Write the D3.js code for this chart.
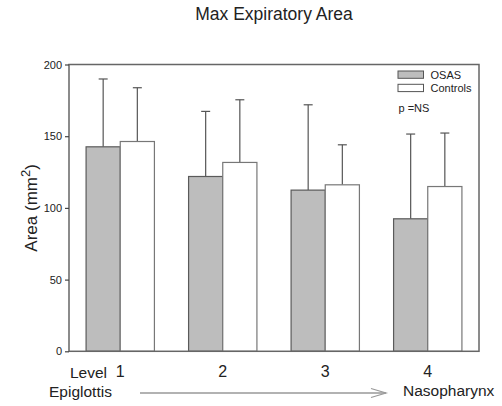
<!DOCTYPE html>
<html lang="en">
<head>
  <meta charset="utf-8">
  <title>Max Expiratory Area</title>
  <script src="https://d3js.org/d3.v7.min.js"></script>
  <style>
    body { margin: 0; background: #fff; }
    text { font-family: "Liberation Sans", Arial, sans-serif; fill: #222; }
  </style>
</head>
<body>
<script>
  // data
  var levels = ["1", "2", "3", "4"];
  var groups = ["OSAS", "Controls"];
  var osasMean = [142.6, 121.9, 112.4, 92.4];
  var osasErr = [189.9, 167.3, 171.9, 151.5];
  var ctrlMean = [146.3, 131.7, 116.1, 114.9];
  var ctrlErr = [183.8, 175.4, 144.0, 152.2];
  var yTicks = [0, 50, 100, 150, 200];
  var fills = ["#bdbdbd", "#ffffff"];

  var w = 502, h = 406;
  var plotL = 69, plotR = 479, plotT = 64.5, plotB = 351.3;

  var svg = d3.select("body").append("svg")
    .attr("width", w)
    .attr("height", h);

  var x = d3.scaleBand().domain(levels).range([plotL, plotR]).padding(0);
  var y = d3.scaleLinear().domain([0, 200]).range([plotB, plotT]);
  var barW = x.bandwidth() / 3;

  var rows = [];
  levels.forEach(function(l, i) {
    rows.push({level: l, g: 0, mean: osasMean[i], err: osasErr[i]});
    rows.push({level: l, g: 1, mean: ctrlMean[i], err: ctrlErr[i]});
  });
  function bx(d) {
    return x(d.level) + x.bandwidth() / 2 - barW + d.g * barW;
  }

  // error bars (upper only) drawn first so the bar covers the stem
  var eb = svg.append("g").attr("stroke", "#555").attr("stroke-width", 1.2);
  eb.selectAll("line.stem").data(rows).enter().append("line")
    .attr("class", "stem")
    .attr("x1", function(d) { return bx(d) + barW / 2; })
    .attr("x2", function(d) { return bx(d) + barW / 2; })
    .attr("y1", function(d) { return y(d.mean); })
    .attr("y2", function(d) { return y(d.err); });
  eb.selectAll("line.cap").data(rows).enter().append("line")
    .attr("class", "cap")
    .attr("x1", function(d) { return bx(d) + barW / 2 - 4.5; })
    .attr("x2", function(d) { return bx(d) + barW / 2 + 4.5; })
    .attr("y1", function(d) { return y(d.err); })
    .attr("y2", function(d) { return y(d.err); });

  svg.append("g").selectAll("rect").data(rows).enter().append("rect")
    .attr("x", bx)
    .attr("y", function(d) { return y(d.mean); })
    .attr("width", barW)
    .attr("height", function(d) { return y(0) - y(d.mean); })
    .attr("fill", function(d) { return fills[d.g]; })
    .attr("stroke", function(d) { return d.g == 0 ? "#5a5a5a" : "#777"; })
    .attr("stroke-width", 1.2);

  // frame
  svg.append("rect")
    .attr("x", plotL).attr("y", plotT)
    .attr("width", plotR - plotL).attr("height", plotB - plotT)
    .attr("fill", "none").attr("stroke", "#666").attr("stroke-width", 1.5);

  var yAxis = svg.append("g")
    .attr("transform", "translate(" + plotL + ",0)")
    .call(d3.axisLeft(y).tickValues(yTicks).tickSize(4).tickPadding(3));
  yAxis.select(".domain").remove();
  yAxis.selectAll("line").attr("stroke", "#444").attr("stroke-width", 1.2);
  yAxis.selectAll("text").attr("font-size", 11).attr("fill", "#333")
    .style("font-family", "'Liberation Sans', Arial, sans-serif");

  // level labels
  svg.append("g").selectAll("text").data(levels).enter().append("text")
    .attr("x", function(d) { return x(d) + x.bandwidth() / 2; })
    .attr("y", 377)
    .attr("text-anchor", "middle")
    .attr("font-size", 16)
    .text(function(d) { return d; });

  svg.append("text").attr("x", 70).attr("y", 378)
    .attr("font-size", 15.5).text("Level");
  svg.append("text").attr("x", 49).attr("y", 397)
    .attr("font-size", 15.5).text("Epiglottis");
  svg.append("text").attr("x", 403).attr("y", 396)
    .attr("font-size", 15.5).text("Nasopharynx");

  // arrow
  svg.append("line")
    .attr("x1", 140).attr("x2", 386).attr("y1", 393).attr("y2", 393)
    .attr("stroke", "#999").attr("stroke-width", 1.5);
  svg.append("path")
    .attr("d", "M371,388.5L386,393L371,397.5")
    .attr("fill", "none").attr("stroke", "#999").attr("stroke-width", 1.2);

  // title
  svg.append("text").attr("x", 274).attr("y", 20)
    .attr("text-anchor", "middle").attr("font-size", 17.5)
    .text("Max Expiratory Area");

  // y label
  var yl = svg.append("text")
    .attr("transform", "translate(37," + ((plotT + plotB) / 2) + ") rotate(-90)")
    .attr("text-anchor", "middle")
    .attr("font-size", 17);
  yl.append("tspan").text("Area (mm");
  yl.append("tspan").attr("baseline-shift", "super").attr("font-size", 13).text("2");
  yl.append("tspan").text(")");

  // legend
  var lg = svg.append("g");
  lg.selectAll("rect").data(groups).enter().append("rect")
    .attr("x", 398).attr("y", function(d, i) { return 71 + i * 13.3; })
    .attr("width", 25.5).attr("height", 7.3)
    .attr("fill", function(d, i) { return fills[i]; })
    .attr("stroke", "#555").attr("stroke-width", 1);
  lg.selectAll("text").data(groups).enter().append("text")
    .attr("x", 430.5).attr("y", function(d, i) { return 78.8 + i * 13.3; })
    .attr("font-size", 11)
    .text(function(d) { return d; });
  lg.append("text").attr("x", 398.5).attr("y", 112)
    .attr("font-size", 11).text("p =NS");
</script>
</body>
</html>
